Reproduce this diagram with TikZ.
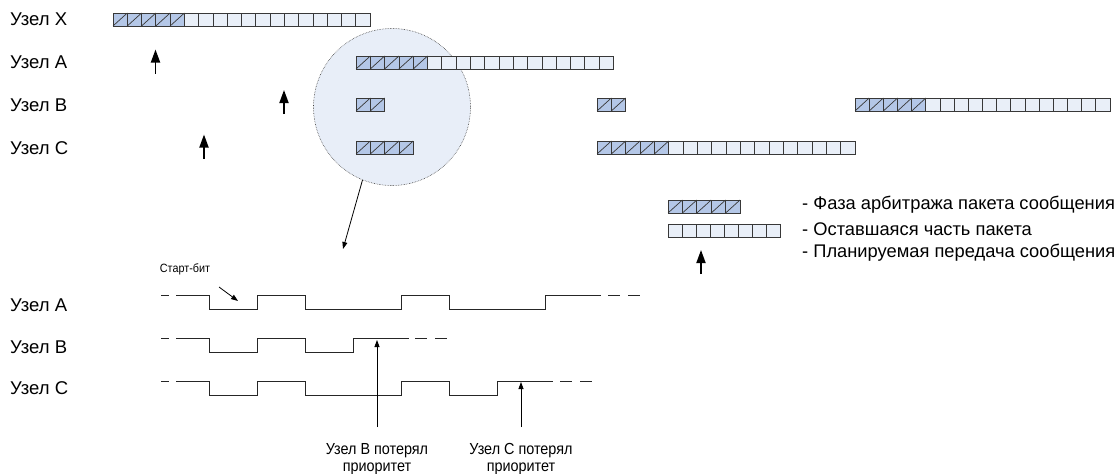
\documentclass[tikz,border=0pt]{standalone}
\usepackage{fontspec}
\setmainfont{Liberation Sans}
\newfontfamily\narrowf[FakeStretch=0.9]{Liberation Sans}
\usetikzlibrary{arrows.meta}
\definecolor{hatchblue}{HTML}{B4C7E7}
\definecolor{lightblue}{HTML}{E9EFF8}
\definecolor{circfill}{HTML}{E8EEF8}
\definecolor{cellborder}{HTML}{383838}
\tikzset{
  hcell/.style={draw=cellborder, line width=0.8pt, fill=hatchblue},
  lcell/.style={draw=cellborder, line width=0.8pt, fill=lightblue},
  rowlabel/.style={anchor=west, inner sep=0pt, font=\fontsize{18.5}{21}\selectfont},
  legtext/.style={anchor=west, inner sep=0pt, font=\fontsize{18.3}{21}\selectfont},
  smalltext/.style={inner sep=0pt, align=center, font=\narrowf\fontsize{16}{17}\selectfont},
  tinytext/.style={inner sep=0pt, font=\narrowf\fontsize{12}{14}\selectfont},
  uparr/.style={line width=1.8pt, -{Triangle[length=13pt,width=9pt]}},
  thinarr/.style={line width=0.8pt, -{Triangle[length=7pt,width=5pt]}},
  wave/.style={line width=1pt, draw=black!85},
  wavedash/.style={line width=1pt, draw=black!85, dash pattern=on 12pt off 8pt}
}
\newcommand{\pkt}[5]{%
  \foreach \i in {1,...,#4} {%
    \pgfmathsetmacro\xx{#1+(\i-1)*#5}%
    \ifnum\i>#3\relax
      \draw[lcell] (\xx,#2) rectangle ++(#5,13);
    \else
      \draw[hcell] (\xx,#2) rectangle ++(#5,13);
      \draw[draw=cellborder, line width=0.7pt] (\xx,#2+13) -- ++(#5,-13);
    \fi
  }%
}
\begin{document}
\begin{tikzpicture}[x=1pt, y=-1pt]
\useasboundingbox (0,0) rectangle (1120,474);

% magnifier circle
\node[circle, draw=black!75, densely dotted, line width=0.6pt, fill=circfill,
      minimum size=157pt, inner sep=0pt] (lens) at (392,107) {};

% row labels
\node[rowlabel] (lx) at (10,19.5) {Узел X};
\node[rowlabel] (la) at (10,62) {Узел A};
\node[rowlabel] (lb) at (10,105) {Узел B};
\node[rowlabel] (lc) at (10,148) {Узел C};

% packets
\pkt{113}{13}{5}{18}{14.28}
\pkt{356}{56}{5}{18}{14.3}
\pkt{356}{98}{2}{2}{14.3}
\pkt{597}{98}{2}{2}{14.3}
\pkt{855}{98}{5}{18}{14.17}
\pkt{356}{141}{4}{4}{14.3}
\pkt{597}{141}{5}{18}{14.33}

% planned transmission arrows
\coordinate (aa0) at (155.5,73.5); \coordinate (aa1) at (155.5,49.5);
\coordinate (ab0) at (284,114); \coordinate (ab1) at (284,90);
\coordinate (ac0) at (204,158.5); \coordinate (ac1) at (204,134.5);
\draw[uparr] (aa0) -- (aa1);
\draw[uparr] (ab0) -- (ab1);
\draw[uparr] (ac0) -- (ac1);

% zoom pointer
\coordinate (lensend) at (343,249);
\draw[thinarr] (lens.248) -- (lensend);

% legend
\pkt{668}{200}{5}{5}{14.4}
\pkt{668}{224}{0}{8}{14}
\coordinate (lg0) at (701,274); \coordinate (lg1) at (701,250);
\draw[uparr] (lg0) -- (lg1);
\node[legtext] (leg1) at (802,205) {- Фаза арбитража пакета сообщения};
\node[legtext] (leg2) at (802,229.5) {- Оставшаяся часть пакета};
\node[legtext] (leg3) at (802,253) {- Планируемая передача сообщения};

% bottom labels
\node[rowlabel] (wa) at (10,305) {Узел A};
\node[rowlabel] (wb) at (10,347) {Узел B};
\node[rowlabel] (wc) at (10,388) {Узел C};

% waveform A
\draw[wave] (161,295.5) -- (169,295.5);
\draw[wave] (176,295.5) -- (209,295.5) -- (209,309.5) -- (257,309.5) -- (257,295.5)
  -- (305,295.5) -- (305,309.5) -- (401,309.5) -- (401,295.5) -- (449,295.5)
  -- (449,309.5) -- (545,309.5) -- (545,295.5) -- (601,295.5);
\draw[wavedash] (608,295.5) -- (642,295.5);
% waveform B
\draw[wave] (161,338) -- (169,338);
\draw[wave] (176,338) -- (209,338) -- (209,352) -- (257,352) -- (257,338)
  -- (305,338) -- (305,352) -- (353,352) -- (353,338) -- (409,338);
\draw[wavedash] (415,338) -- (449,338);
% waveform C
\draw[wave] (161,381) -- (169,381);
\draw[wave] (176,381) -- (209,381) -- (209,395.5) -- (257,395.5) -- (257,381)
  -- (305,381) -- (305,395.5) -- (401,395.5) -- (401,381) -- (449,381)
  -- (449,395.5) -- (497,395.5) -- (497,381) -- (553,381);
\draw[wavedash] (560,381) -- (594,381);

% start bit
\node[tinytext] (sb) at (185,269.5) {Старт-бит};
\coordinate (sb0) at (219,287); \coordinate (sb1) at (238,301);
\draw[thinarr] (sb0) -- (sb1);

% lost priority
\node[smalltext] (lostb) at (377,459) {Узел B потерял\\приоритет};
\node[smalltext] (lostc) at (521,459) {Узел C потерял\\приоритет};
\coordinate (lb0) at (377,427); \coordinate (lb1) at (377,340);
\coordinate (lc0) at (521,427); \coordinate (lc1) at (521,382);
\draw[thinarr] (lb0) -- (lb1);
\draw[thinarr] (lc0) -- (lc1);
\end{tikzpicture}
\end{document}
